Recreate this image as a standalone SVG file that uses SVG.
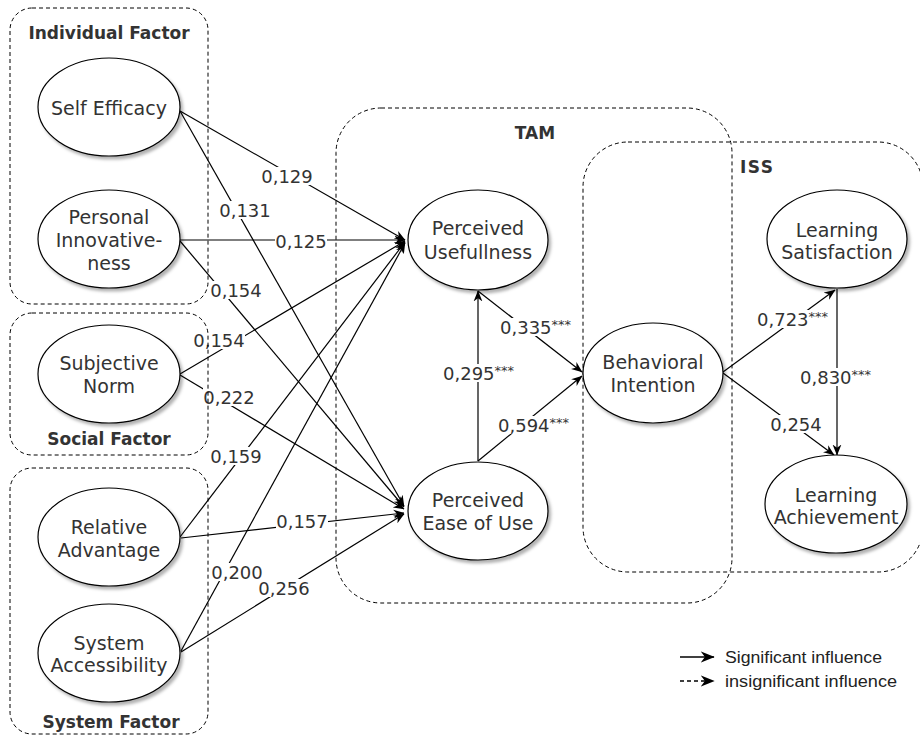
<svg xmlns="http://www.w3.org/2000/svg" width="920" height="736" viewBox="0 0 920 736">
<defs>
<marker id="arr" viewBox="0 0 10 10" refX="9.5" refY="5" markerWidth="11" markerHeight="11" markerUnits="userSpaceOnUse" orient="auto">
<path d="M0,1 L10,5 L0,9 L3,5 z" fill="#000"/>
</marker>
<marker id="arrL" viewBox="0 0 10 10" refX="9.5" refY="5" markerWidth="14" markerHeight="14" markerUnits="userSpaceOnUse" orient="auto">
<path d="M0,1 L10,5 L0,9 L3,5 z" fill="#000"/>
</marker>
<filter id="sh" x="-20%" y="-20%" width="150%" height="150%">
<feDropShadow dx="2.5" dy="3" stdDeviation="1.5" flood-color="#000" flood-opacity="0.3"/>
</filter>
<style>
.node ellipse{fill:#fff;stroke:#000;stroke-width:1.2;filter:url(#sh)}
.nt{font-family:"DejaVu Sans",Verdana,sans-serif;font-size:19px;fill:#333;text-anchor:middle}
.grp{fill:none;stroke:#000;stroke-width:1;stroke-dasharray:4 3}
.gt{font-family:"DejaVu Sans",Verdana,sans-serif;font-size:17px;font-weight:bold;fill:#333}
.edge{fill:none;stroke:#000;stroke-width:1.2;marker-end:url(#arr)}
.ledge{fill:none;stroke:#000;stroke-width:1.5;marker-end:url(#arrL)}
.lb{fill:#fff}
.lt{font-family:"DejaVu Sans",Verdana,sans-serif;font-size:18px;fill:#333}
.st{font-size:13px}
.leg{font-family:"Liberation Sans",Arial,sans-serif;font-size:16px;fill:#222}
</style>
</defs>
<rect width="920" height="736" fill="#fff"/>

<g id="connectors">
<path class="edge" d="M180,111 L405,240"/>
<path class="edge" d="M180,111 L404,506"/>
<path class="edge" d="M180,240 L405,240"/>
<path class="edge" d="M180,241 L404,507"/>
<path class="edge" d="M180,374 L405,241"/>
<path class="edge" d="M180,375 L404,509"/>
<path class="edge" d="M180,537 L405,242"/>
<path class="edge" d="M181,538 L404,513"/>
<path class="edge" d="M181,651 L405,243"/>
<path class="edge" d="M181,652 L404,514"/>
<path class="edge" d="M478,461 L478,291"/>
<path class="edge" d="M478,461 L582,376"/>
<path class="edge" d="M478,291 L582,372"/>
<path class="edge" d="M723,372 L835,290"/>
<path class="edge" d="M723,373 L834,455"/>
<path class="edge" d="M837,289 L837,455"/>

<g id="labels">
<rect class="lb" x="261" y="167" width="52" height="18"/><text class="lt" x="287" y="182.5" text-anchor="middle">0,129</text>
<rect class="lb" x="219" y="201" width="52" height="18"/><text class="lt" x="245" y="216.5" text-anchor="middle">0,131</text>
<rect class="lb" x="275" y="232" width="52" height="18"/><text class="lt" x="301" y="247.5" text-anchor="middle">0,125</text>
<rect class="lb" x="210" y="281" width="52" height="18"/><text class="lt" x="236" y="296.5" text-anchor="middle">0,154</text>
<rect class="lb" x="193" y="331" width="52" height="18"/><text class="lt" x="219" y="346.5" text-anchor="middle">0,154</text>
<rect class="lb" x="203" y="388" width="52" height="18"/><text class="lt" x="229" y="403.5" text-anchor="middle">0,222</text>
<rect class="lb" x="210" y="447" width="52" height="18"/><text class="lt" x="236" y="462.5" text-anchor="middle">0,159</text>
<rect class="lb" x="276" y="512" width="52" height="18"/><text class="lt" x="302" y="527.5" text-anchor="middle">0,157</text>
<rect class="lb" x="211" y="563" width="52" height="18"/><text class="lt" x="237" y="578.5" text-anchor="middle">0,200</text>
<rect class="lb" x="258" y="579" width="52" height="18"/><text class="lt" x="284" y="594.5" text-anchor="middle">0,256</text>
<rect class="lb" x="770" y="415" width="52" height="18"/><text class="lt" x="796" y="430.5" text-anchor="middle">0,254</text>
<rect class="lb" x="442" y="364" width="73" height="18"/><text class="lt" x="443" y="379.5">0,295<tspan class="st" dy="-5">***</tspan></text>
<rect class="lb" x="499" y="318" width="73" height="18"/><text class="lt" x="500" y="333.5">0,335<tspan class="st" dy="-5">***</tspan></text>
<rect class="lb" x="497" y="416" width="73" height="18"/><text class="lt" x="498" y="431.5">0,594<tspan class="st" dy="-5">***</tspan></text>
<rect class="lb" x="756" y="310" width="73" height="18"/><text class="lt" x="757" y="325.5">0,723<tspan class="st" dy="-5">***</tspan></text>
<rect class="lb" x="799" y="368" width="73" height="18"/><text class="lt" x="800" y="383.5">0,830<tspan class="st" dy="-5">***</tspan></text>
</g>
</g>

<g id="group-individual">
<rect class="grp" x="10" y="8" width="198" height="296" rx="22"/>
<text class="gt" x="109" y="39" text-anchor="middle">Individual Factor</text>
</g>
<g id="group-social">
<rect class="grp" x="10" y="313" width="198" height="142" rx="22"/>
<text class="gt" x="109" y="445" text-anchor="middle">Social Factor</text>
</g>
<g id="group-system">
<rect class="grp" x="10" y="468" width="198" height="266" rx="22"/>
<text class="gt" x="111" y="728" text-anchor="middle">System Factor</text>
</g>
<g id="group-tam">
<rect class="grp" x="336" y="108" width="396" height="495" rx="45"/>
<text class="gt" x="535" y="139" text-anchor="middle">TAM</text>
</g>
<g id="group-iss">
<rect class="grp" x="583" y="142" width="340" height="430" rx="45"/>
<text class="gt" x="740" y="173" letter-spacing="1.5">ISS</text>
</g>

<g id="node-self-efficacy" class="node">
<ellipse cx="109" cy="107" rx="71" ry="49"/>
<text class="nt" x="109" y="115">Self Efficacy</text>
</g>
<g id="node-personal-innovativeness" class="node">
<ellipse cx="109" cy="239" rx="71" ry="49"/>
<text class="nt" x="109" y="224">Personal</text>
<text class="nt" x="109" y="247">Innovative-</text>
<text class="nt" x="109" y="270">ness</text>
</g>
<g id="node-subjective-norm" class="node">
<ellipse cx="109" cy="374" rx="71" ry="49"/>
<text class="nt" x="109" y="370">Subjective</text>
<text class="nt" x="109" y="393">Norm</text>
</g>
<g id="node-relative-advantage" class="node">
<ellipse cx="109" cy="537" rx="71" ry="49"/>
<text class="nt" x="109" y="534">Relative</text>
<text class="nt" x="109" y="557">Advantage</text>
</g>
<g id="node-system-accessibility" class="node">
<ellipse cx="109" cy="653" rx="71" ry="49"/>
<text class="nt" x="109" y="650">System</text>
<text class="nt" x="109" y="672">Accessibility</text>
</g>
<g id="node-perceived-usefullness" class="node">
<ellipse cx="478" cy="240" rx="70" ry="50"/>
<text class="nt" x="478" y="235">Perceived</text>
<text class="nt" x="478" y="259">Usefullness</text>
</g>
<g id="node-perceived-ease-of-use" class="node">
<ellipse cx="478" cy="511" rx="70" ry="49"/>
<text class="nt" x="478" y="507">Perceived</text>
<text class="nt" x="478" y="530">Ease of Use</text>
</g>
<g id="node-behavioral-intention" class="node">
<ellipse cx="653" cy="373" rx="70" ry="50"/>
<text class="nt" x="653" y="369">Behavioral</text>
<text class="nt" x="653" y="392">Intention</text>
</g>
<g id="node-learning-satisfaction" class="node">
<ellipse cx="837" cy="239" rx="70" ry="49"/>
<text class="nt" x="837" y="237">Learning</text>
<text class="nt" x="837" y="259">Satisfaction</text>
</g>
<g id="node-learning-achievement" class="node">
<ellipse cx="836" cy="504" rx="71" ry="49"/>
<text class="nt" x="836" y="502">Learning</text>
<text class="nt" x="836" y="524">Achievement</text>
</g>

<g id="legend">
<path class="ledge" d="M680,657 L714,657"/>
<text class="leg" x="725" y="663" textLength="157" lengthAdjust="spacingAndGlyphs">Significant influence</text>
<path class="ledge" d="M680,681 L714,681" stroke-dasharray="4 3"/>
<text class="leg" x="725" y="687" textLength="172" lengthAdjust="spacingAndGlyphs">insignificant influence</text>
</g>
</svg>
